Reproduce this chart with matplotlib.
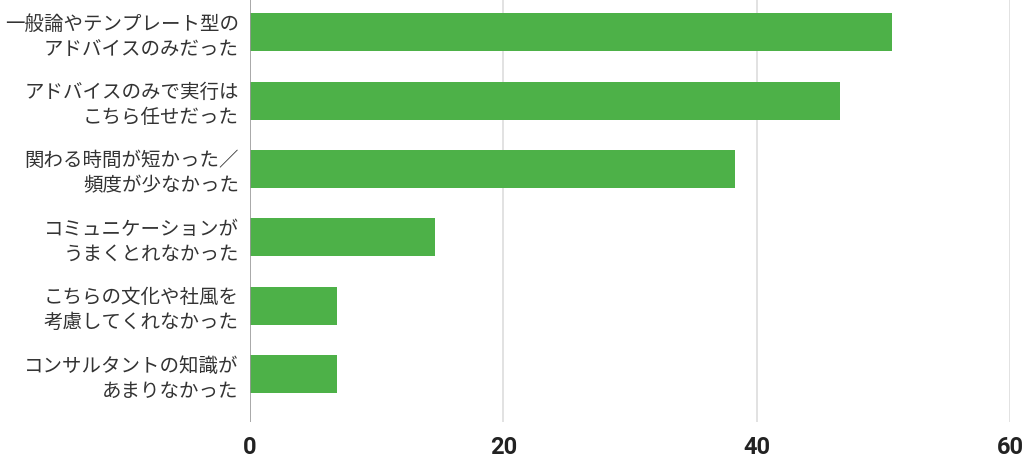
import matplotlib
matplotlib.use('Agg')
import matplotlib.pyplot as plt

labels = [
    '一般論やテンプレート型の\nアドバイスのみだった',
    'アドバイスのみで実行は\nこちら任せだった',
    '関わる時間が短かった／\n頻度が少なかった',
    'コミュニケーションが\nうまくとれなかった',
    'こちらの文化や社風を\n考慮してくれなかった',
    'コンサルタントの知識が\nあまりなかった',
]
values = [50.7, 46.6, 38.3, 14.6, 6.9, 6.9]
xticks = [0, 20, 40, 60]

bar_color = '#4db148'

fig = plt.figure(figsize=(10.24, 4.71), dpi=100)
ax = fig.add_axes([0.2441, 0.104, 0.9863 - 0.2441, 0.896])

pos = list(range(len(labels)))
ax.barh(pos, values, height=0.556, color=bar_color, zorder=3)

ax.set_xlim(0, 60)
ax.set_ylim(5.7, -0.47)
ax.set_xticks(xticks)
ax.set_xticklabels([str(t) for t in xticks], fontsize=17, fontweight='bold',
                   family=['Roboto', 'DejaVu Sans'], color='#222222')
ax.set_yticks(pos)
ax.set_yticklabels(labels, family=['Noto Sans CJK JP', 'DejaVu Sans'], fontsize=14,
                   color='#333333', linespacing=1.25)
ax.tick_params(axis='both', length=0)
ax.tick_params(axis='x', pad=10)
ax.tick_params(axis='y', pad=8)

for t in xticks[1:]:
    ax.axvline(t, color='#dddddd', lw=1.2, zorder=1)
ax.axvline(0, color='#999999', lw=1.2, zorder=4)

for s in ax.spines.values():
    s.set_visible(False)

fig.savefig('out.png', dpi=100)
